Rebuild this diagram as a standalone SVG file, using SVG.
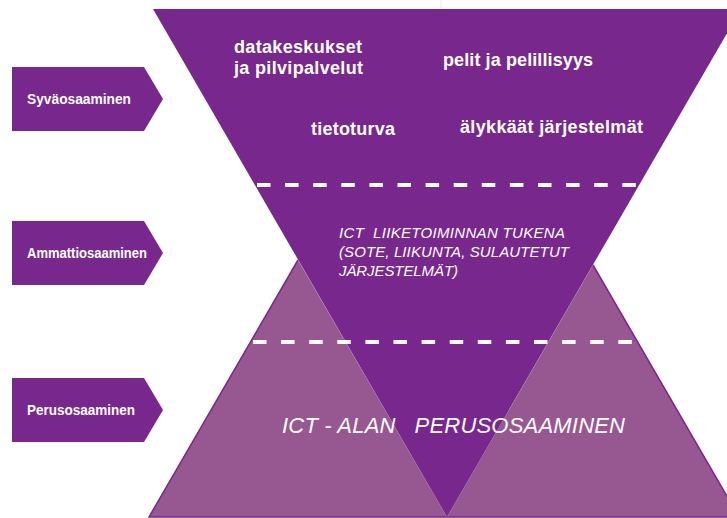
<svg xmlns="http://www.w3.org/2000/svg" width="727" height="518" viewBox="0 0 727 518">
  <style>
    .dark { fill: #78288C; }
    .light { fill: #975891; }
    .edge { fill: none; stroke: #78288C; stroke-width: 1.5; }
    .dash { stroke: #FFFFFF; stroke-width: 4; stroke-dasharray: 13.5 14.6; fill: none; }
    .lbl { font-family: "Liberation Sans", Arial, sans-serif; font-weight: bold; font-size: 14.5px; fill: #FFFFFF; }
    .topic { font-family: "Liberation Sans", Arial, sans-serif; font-weight: bold; font-size: 18px; fill: #FFFFFF; }
    .it { font-family: "Liberation Sans", Arial, sans-serif; font-style: italic; font-size: 15px; fill: #FFFFFF; white-space: pre; }
    .big { font-family: "Liberation Sans", Arial, sans-serif; font-style: italic; font-size: 22px; fill: #FFFFFF; white-space: pre; }
  </style>
  <rect width="727" height="518" fill="#FFFFFF"/>

  <g id="perus-left">
    <polygon class="light" points="298,260 149,517 447,517"/>
    <polyline class="edge" points="298,260 149,517 447,517"/>
  </g>
  <g id="perus-right">
    <polygon class="light" points="593,265 447,517 739,517"/>
    <polyline class="edge" points="593,265 739,517 447,517"/>
  </g>
  <g id="inverted">
    <polygon class="dark" points="153,9 741,9 447,517"/>
  </g>
  <line x1="441" y1="0" x2="441" y2="8" stroke="#D8D8D8" stroke-width="0.6"/>

  <g id="connectors">
    <line class="dash" x1="257" y1="185" x2="636" y2="185"/>
    <line class="dash" x1="253" y1="342" x2="633" y2="342"/>
  </g>

  <g id="deep-topics">
    <text class="topic" x="234" y="53" textLength="128" lengthAdjust="spacing">datakeskukset</text>
    <text class="topic" x="234" y="74" textLength="129" lengthAdjust="spacing">ja pilvipalvelut</text>
    <text class="topic" x="443" y="66" textLength="150" lengthAdjust="spacing">pelit ja pelillisyys</text>
    <text class="topic" x="311" y="135" textLength="84" lengthAdjust="spacing">tietoturva</text>
    <text class="topic" x="460" y="133" textLength="183" lengthAdjust="spacing">älykkäät järjestelmät</text>
  </g>

  <g id="professional-topics">
    <text class="it" x="339" y="238" textLength="226" lengthAdjust="spacing">ICT  LIIKETOIMINNAN TUKENA</text>
    <text class="it" x="339" y="257" textLength="230" lengthAdjust="spacing">(SOTE, LIIKUNTA, SULAUTETUT</text>
    <text class="it" x="339" y="276" textLength="119" lengthAdjust="spacing">JÄRJESTELMÄT)</text>
  </g>

  <g id="basic-topic">
    <text class="big" x="282" y="433" textLength="343" lengthAdjust="spacing">ICT - ALAN   PERUSOSAAMINEN</text>
  </g>

  <g id="label-syva">
    <polygon class="dark" points="12,67 144,67 163,99 144,131 12,131"/>
    <text class="lbl" x="27" y="104" textLength="104" lengthAdjust="spacingAndGlyphs">Syväosaaminen</text>
  </g>
  <g id="label-ammatti">
    <polygon class="dark" points="12,221 144,221 163,253 144,285 12,285"/>
    <text class="lbl" x="27" y="258" textLength="120" lengthAdjust="spacingAndGlyphs">Ammattiosaaminen</text>
  </g>
  <g id="label-perus">
    <polygon class="dark" points="12,378 144,378 163,410 144,442 12,442"/>
    <text class="lbl" x="27" y="415" textLength="108" lengthAdjust="spacingAndGlyphs">Perusosaaminen</text>
  </g>
</svg>
